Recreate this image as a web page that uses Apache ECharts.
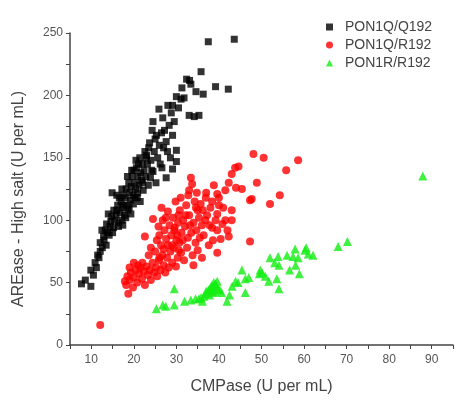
<!DOCTYPE html>
<html><head><meta charset="utf-8">
<script src="https://cdn.jsdelivr.net/npm/echarts@6/dist/echarts.min.js"></script>
<style>html,body{margin:0;padding:0;background:#fff}#c{width:456px;height:400px}</style>
</head><body><div id="c"></div>
<script>
const seriesNames = ['PON1Q/Q192', 'PON1Q/R192', 'PON1R/R192'];
const xTickLabels = [10, 20, 30, 40, 50, 60, 70, 80, 90];
const yTickLabels = [0, 50, 100, 150, 200, 250];

const qqData = [
[7.7,49],[8.6,52],[9.9,47],[9.9,60],[10.5,56],[10.9,66],[11.2,62],[11.5,72],[11.8,70],[12.1,75],[12.1,82],[12.5,92],[12.6,78],[12.9,87],[13,84],[13.3,92],[13.5,80],[13.6,97],[13.8,90],[14,105],[14.2,88],[14.4,95],[14.6,99],[14.8,103],[14.9,122],[15,90],[15.2,94],[15.3,108],[15.5,100],[15.8,104],[16,108],[16,120],[16.2,112],[16.4,95],[16.5,98],[16.6,118],[16.8,106],[17,115],[17.2,100],[17.2,125],[17.3,110],[17.4,96],[17.5,120],[17.6,112],[17.8,104],[18,118],[18.1,102],[18.2,125],[18.4,112],[18.5,135],[18.6,108],[18.8,130],[18.9,110],[19,122],[19.2,116],[19.3,105],[19.4,127],[19.5,140],[19.6,135],[19.8,120],[19.9,113],[20,140],[20.2,130],[20.3,118],[20.4,125],[20.5,148],[20.6,142],[20.8,118],[20.9,122],[21,135],[21.1,145],[21.2,128],[21.4,150],[21.5,115],[21.6,138],[21.8,132],[22,145],[22.1,130],[22.2,124],[22.4,140],[22.6,155],[22.8,135],[22.9,150],[23,152],[23.2,145],[23.4,128],[23.5,158],[23.7,162],[23.9,134],[24,148],[24.2,140],[24.3,172],[24.5,139],[24.5,179],[24.8,155],[25,165],[25.2,130],[25.3,168],[25.6,150],[25.9,189],[26,160],[26.2,145],[26.5,170],[26.6,142],[26.8,182],[27,158],[27.2,172],[27.6,163],[27.6,134],[27.9,155],[28,192],[28.3,176],[28.6,150],[28.8,186],[29.1,192],[29.1,168],[29.1,141],[29.5,179],[30,199],[30,156],[30,147],[30.5,190],[31.1,197],[31.3,206],[31.8,198],[32.4,213],[33.1,212],[33.4,209],[33,184],[34.2,183],[35.3,184],[34.6,203],[35.8,219],[36.3,201],[39.2,207],[42.2,205],[37.5,243],[43.6,245]
];

const qrData = [
[12.1,16],[18.7,41],[17.9,51],[18.2,48],[18.5,55],[19,52],[19,62],[19.3,58],[19.8,46],[20,54],[20,66],[20.4,60],[20.8,50],[21,64],[21.2,57],[21.5,62],[21.9,53],[22,66],[22.3,59],[22.6,48],[22.6,87],[23,63],[23.3,56],[23.5,72],[23.7,60],[24,52],[24,78],[24.4,66],[24.5,101],[24.8,58],[25,75],[25.2,62],[25.4,84],[25.5,55],[25.8,95],[25.9,68],[26,70],[26,88],[26.3,60],[26.4,80],[26.5,110],[26.7,72],[26.8,100],[27,64],[27,77],[27.2,92],[27.4,58],[27.5,102],[27.6,85],[27.8,70],[28,80],[28,107],[28.2,62],[28.4,96],[28.6,75],[28.8,88],[29,66],[29,80],[29.2,102],[29.4,78],[29.5,92],[29.6,94],[29.8,115],[29.9,63],[30,84],[30.2,88],[30.3,70],[30.4,98],[30.5,104],[30.6,76],[30.7,82],[30.8,108],[31,118],[31.1,74],[31.2,90],[31.5,84],[31.6,100],[31.8,68],[32,95],[32.2,104],[32.3,112],[32.5,78],[32.7,86],[32.8,120],[33,104],[33,124],[33.2,96],[33.4,134],[33.5,90],[33.7,129],[33.8,72],[34,64],[34,98],[34.3,115],[34.5,82],[34.6,110],[34.7,92],[34.8,122],[35,76],[35,108],[35.3,102],[35.5,86],[35.7,113],[36,70],[36,96],[36.2,108],[36.4,88],[36.8,100],[36.9,118],[37,122],[37.2,104],[37.6,80],[37.8,96],[38,110],[38.4,94],[38.4,115],[38.6,84],[38.8,128],[39.2,100],[39.6,121],[39.6,92],[39.6,105],[39.6,74],[40,112],[40,118],[40.4,85],[40.8,97],[41,110],[41.5,124],[41.5,100],[42,92],[42.3,130],[42.3,87],[43,137],[43,100],[43,108],[43.8,142],[44,126],[44.6,143],[45.4,125],[47.3,83],[47.3,116],[47.7,117],[48.1,153],[48.9,130],[50.5,150],[52,113],[54.3,120],[55.8,140],[58.6,148]
];

const rrData = [
[25.3,29],[26.8,32],[27.5,31],[29.5,32],[29.5,45],[31.9,35],[33.4,36],[34.5,37],[35.3,37],[35.8,38],[36.1,35],[36.5,39],[36.9,41],[37,43],[37.5,44],[37.8,40],[38,46],[38.2,44],[38.4,48],[38.6,42],[38.8,50],[39,43],[39.2,49],[39.4,47],[39.6,51],[39.8,45],[40.2,44],[40.6,42],[41.9,35],[42.5,40],[43.1,47],[43.9,51],[44.5,50],[45.4,60],[46.2,53],[46.2,42],[47,54],[49.5,57],[49.7,60],[50.1,58],[50.9,55],[51.7,51],[52,70],[53.1,66],[53.6,53],[53.9,71],[54.1,64],[54.1,45],[56,72],[56.6,60],[57.4,71],[57.9,77],[58,64],[58.6,70],[58.9,57],[60.2,76],[60.5,78],[61,73],[62.1,72],[68,79],[70.2,83],[87.9,135.5]
];

const chart = echarts.init(document.getElementById('c'), null, {renderer: 'canvas'});
const txt = '#555';
chart.setOption({
  backgroundColor: '#fff',
  animation: false,
  grid: {left: 70, right: 0, top: 33, bottom: 50},
  legend: {
    orient: 'vertical', left: 321, top: 15, itemWidth: 7, itemHeight: 7, itemGap: 4,
    data: seriesNames,
    textStyle: {fontFamily: 'Liberation Sans', fontSize: 14, color: '#444', padding: [0, 0, 0, 7]}
  },
  xAxis: {
    type: 'value', min: 5, max: 95, interval: 5,
    name: 'CMPase (U per mL)', nameLocation: 'middle', nameGap: 34,
    nameTextStyle: {fontFamily: 'Liberation Sans', fontSize: 16, color: '#444'},
    axisLine: {show: true, onZero: false, lineStyle: {color: '#444', width: 1.5}},
    axisTick: {show: true, length: 4, lineStyle: {color: '#444'}},
    splitLine: {show: false},
    axisLabel: {fontFamily: 'Liberation Sans', fontSize: 12, color: txt, margin: 9,
      formatter: v => xTickLabels.includes(v) ? String(v) : ''}
  },
  yAxis: {
    type: 'value', min: 0, max: 250, interval: 25,
    name: 'AREase - High salt (U per mL)', nameLocation: 'middle', nameGap: 43,
    nameTextStyle: {fontFamily: 'Liberation Sans', fontSize: 16, color: '#444', padding: [0, 20, 0, 0]},
    axisLine: {show: true, lineStyle: {color: '#444', width: 1.5}},
    axisTick: {show: true, length: 4, lineStyle: {color: '#444'}},
    splitLine: {show: false},
    axisLabel: {fontFamily: 'Liberation Sans', fontSize: 12, color: txt, margin: 7,
      formatter: v => yTickLabels.includes(v) ? String(v) : ''}
  },
  series: [
    {name: seriesNames[0], type: 'scatter', symbol: 'rect', symbolSize: 7, itemStyle: {color: '#000'}, data: qqData},
    {name: seriesNames[1], type: 'scatter', symbol: 'circle', symbolSize: 8, itemStyle: {color: '#ff0000'}, data: qrData},
    {name: seriesNames[2], type: 'scatter', symbol: 'triangle', symbolSize: 9, itemStyle: {color: '#11ee11'}, data: rrData}
  ]
});
</script>
</body></html>
